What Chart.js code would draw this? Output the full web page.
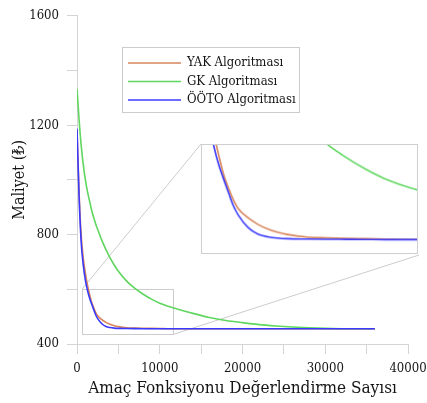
<!DOCTYPE html>
<html>
<head>
<meta charset="utf-8">
<script src="https://cdn.jsdelivr.net/npm/chart.js@4.4.1/dist/chart.umd.min.js"></script>
<style>
  body { margin: 0; background: #fff; }
  #wrap { position: relative; width: 427px; height: 403px; }
  #inset { position: absolute; left: 201px; top: 144px; border: 1px solid #cfcfcf; background: #fff; }
</style>
</head>
<body>
<div id="wrap">
  <canvas id="costChart" width="427" height="403"></canvas>
  <canvas id="inset" width="217" height="110"></canvas>
</div>
<script>
// Convergence curves (cost vs. number of objective evaluations)
const evaluations = [0, 250, 500, 750, 1000, 1250, 1500, 1750, 2000, 2250, 2500, 3000, 3500, 4000, 4500, 5000,
  6000, 7000, 8000, 9000, 10000, 11000, 12000, 14000, 16000, 18000, 20000, 22000, 24000, 26000, 28000,
  30000, 32000, 34000, 36000];

const costYAK = [1186, 955, 800, 715, 662, 618, 584, 555, 534, 516, 503, 489, 479, 472, 467, 463.5,
  459.5, 458.3, 457.5, 457, 456.5, 456, 455.8, 455.6, 455.5, 455.5, 455.5, 455.5, 455.5, 455.5, 455.5,
  455.5, 455.5, 455.5, 455.5];

const costGK = [1333, 1222, 1128, 1058, 1003, 960, 925, 892, 864, 840, 819, 779, 745, 715, 689, 666,
  630, 603, 582, 564, 549, 538, 529, 512, 497, 486, 478, 471, 466, 462, 459,
  457, 456, 455.7, 455.5];

const costOOTO = [1188, 940, 775, 690, 635, 598, 570, 548, 527, 507, 493, 474, 464, 460, 458, 457,
  456.5, 456.2, 456, 455.8, 455.5, 455.5, 455.5, 455.5, 455.5, 455.5, 455.5, 455.5, 455.5, 455.5, 455.5,
  455.5, 455.5, 455.5, 455.5];

const seriesNames = ['YAK Algoritması', 'GK Algoritması', 'ÖÖTO Algoritması'];
const seriesColors = ['#d6845a', '#5fd65f', '#3a3aff'];

const yTickLabels = [400, 800, 1200, 1600];
const xTickLabels = [0, 10000, 20000, 30000, 40000];

// zoomed window shown in the inset
const zoomX = [640, 11630];
const zoomY = [435, 601];

const FONT = "'DejaVu Serif Condensed', 'DejaVu Serif', serif";
const GRAY = '#d4d4d4';
const TEXT = '#151515';

function makeDatasets(width) {
  const values = [costYAK, costGK, costOOTO];
  const order = [1, 2, 0];
  return values.map((v, i) => ({
    label: seriesNames[i],
    data: evaluations.map((x, j) => ({ x: x, y: v[j] })),
    borderColor: seriesColors[i],
    borderWidth: width,
    pointRadius: 0,
    cubicInterpolationMode: 'monotone',
    order: order[i]
  }));
}

// legend box + zoom rectangle + connector lines
const insetBox = { left: 201, top: 144, right: 419, bottom: 255 };

const zoomGuide = {
  id: 'zoomGuide',
  beforeDatasetsDraw(chart) {
    const { ctx, scales: { x, y } } = chart;
    const x1 = x.getPixelForValue(zoomX[0]), x2 = x.getPixelForValue(zoomX[1]);
    const y1 = y.getPixelForValue(zoomY[1]), y2 = y.getPixelForValue(zoomY[0]);
    ctx.save();
    ctx.strokeStyle = '#cccccc';
    ctx.lineWidth = 1;
    ctx.strokeRect(Math.round(x1) + 0.5, Math.round(y1) + 0.5, Math.round(x2 - x1), Math.round(y2 - y1));
    ctx.beginPath();
    ctx.moveTo(x1, y1); ctx.lineTo(insetBox.left, insetBox.top);
    ctx.moveTo(x2, y2); ctx.lineTo(insetBox.right, insetBox.bottom);
    ctx.stroke();
    ctx.restore();
  },
  afterDatasetsDraw(chart) {
    const ctx = chart.ctx;
    ctx.save();
    ctx.fillStyle = '#fff';
    ctx.fillRect(122, 47, 177, 65);
    ctx.strokeStyle = '#cccccc';
    ctx.strokeRect(122.5, 47.5, 177, 65);
    ctx.font = '13px ' + FONT;
    ctx.textBaseline = 'middle';
    const rows = [63, 81.5, 100];
    seriesNames.forEach((name, i) => {
      ctx.strokeStyle = seriesColors[i];
      ctx.lineWidth = 1.5;
      ctx.beginPath();
      ctx.moveTo(128, rows[i]); ctx.lineTo(181, rows[i]);
      ctx.stroke();
      ctx.fillStyle = TEXT;
      ctx.fillText(name, 187, rows[i]);
    });
    ctx.restore();
  }
};

new Chart(document.getElementById('costChart'), {
  type: 'line',
  data: { datasets: makeDatasets(1.6) },
  options: {
    responsive: false,
    animation: false,
    layout: { padding: { top: 12, right: 19, left: 0, bottom: 0 } },
    plugins: { legend: { display: false }, tooltip: { enabled: false } },
    scales: {
      x: {
        type: 'linear',
        min: 0,
        max: 40000,
        grid: { drawOnChartArea: false, color: GRAY, tickLength: 10 },
        border: { color: GRAY },
        ticks: {
          stepSize: 5000,
          padding: 7,
          maxRotation: 0,
          color: TEXT,
          font: { family: FONT, size: 13 },
          callback: v => xTickLabels.includes(v) ? String(v) : ''
        },
        title: {
          display: true,
          text: 'Amaç Fonksiyonu Değerlendirme Sayısı',
          color: TEXT,
          font: { family: FONT, size: 17 },
          padding: { top: 0, bottom: 4 }
        },
        afterFit(scale) { scale.height = 59; scale.paddingLeft = 0; scale.paddingRight = 0; }
      },
      y: {
        min: 400,
        max: 1600,
        grid: { drawOnChartArea: false, color: GRAY, tickLength: 10 },
        border: { color: GRAY },
        ticks: {
          stepSize: 200,
          padding: 8,
          color: TEXT,
          font: { family: FONT, size: 13 },
          callback: v => yTickLabels.includes(v) ? String(v) : ''
        },
        title: {
          display: true,
          text: 'Maliyet (₺)',
          color: TEXT,
          font: { family: FONT, size: 16 },
          padding: { top: 10, bottom: 0 }
        },
        afterFit(scale) { scale.width = 77; }
      }
    }
  },
  plugins: [zoomGuide]
});

// inset: same curves, zoomed
new Chart(document.getElementById('inset'), {
  type: 'line',
  data: { datasets: makeDatasets(1.6) },
  options: {
    responsive: false,
    animation: false,
    layout: { padding: 0 },
    plugins: { legend: { display: false }, tooltip: { enabled: false } },
    scales: {
      x: { type: 'linear', min: zoomX[0], max: zoomX[1], display: false },
      y: { min: zoomY[0], max: zoomY[1], display: false }
    }
  }
});
</script>
</body>
</html>
